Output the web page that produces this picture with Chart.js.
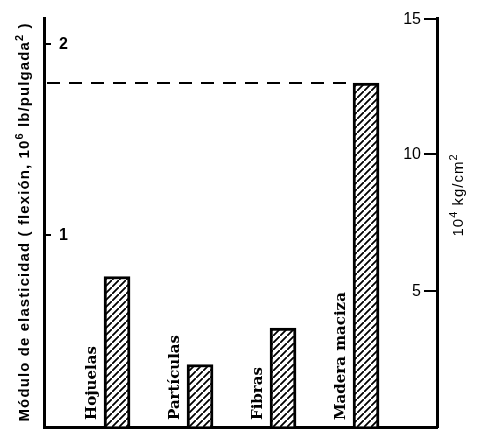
<!DOCTYPE html>
<html>
<head>
<meta charset="utf-8">
<script src="https://cdn.jsdelivr.net/npm/chart.js@4"></script>
<style>
  body { margin: 0; background: #fff; }
</style>
</head>
<body>
<canvas id="chart" width="479" height="438"></canvas>
<script>
const categories = ['Hojuelas', 'Partículas', 'Fibras', 'Madera maciza']
// módulo de elasticidad en flexión, 10^6 lb/pulgada^2
const modulus = [0.785, 0.326, 0.516, 1.794]
const leftTicks = [1, 2]
const rightTicks = [5, 10, 15]
const rightMax = 15
// 1 x 10^6 lb/pulg^2 = 7.0307 x 10^4 kg/cm^2
const psiToKg = 7.0307

// [text, superscript?]
const leftTitle = [['Módulo de elasticidad ( flexión, 10', false], ['6', true], [' lb/pulgada', false], ['2', true], [' )', false]]
const rightTitle = [['10', false], ['4', true], [' kg/cm', false], ['2', true]]

// hatch "////" pattern for the bars
const makeHatch = () => {
  const n = 7
  const c = document.createElement('canvas')
  c.width = n
  c.height = n
  const g = c.getContext('2d')
  g.fillStyle = '#fff'
  g.fillRect(0, 0, n, n)
  g.strokeStyle = '#000'
  g.lineWidth = 1.8
  g.beginPath()
  g.moveTo(-1, n + 1); g.lineTo(n + 1, -1)
  g.moveTo(-n - 1, 1); g.lineTo(1, -n - 1)
  g.moveTo(n - 1, 2 * n + 1); g.lineTo(2 * n + 1, n - 1)
  g.stroke()
  return g.createPattern(c, 'repeat')
}

// draws text with raised superscripts, centred on (0,0) along the baseline
const drawRich = (ctx, parts, size, weight, spacing) => {
  const font = (s) => `${weight} ${s}px "Liberation Sans"`
  const supSize = Math.round(size * 0.72)
  ctx.letterSpacing = spacing + 'px'
  const widths = parts.map(([t, sup]) => {
    ctx.font = font(sup ? supSize : size)
    return ctx.measureText(t).width
  })
  let cx = -widths.reduce((a, b) => a + b, 0) / 2
  ctx.textAlign = 'left'
  parts.forEach(([t, sup], i) => {
    ctx.font = font(sup ? supSize : size)
    ctx.fillText(t, cx, sup ? -size * 0.42 : 0)
    cx += widths[i]
  })
  ctx.letterSpacing = '0px'
}

const extras = {
  id: 'extras',
  afterDraw(chart) {
    const { ctx, chartArea, scales } = chart
    const { x, y, y2 } = scales
    ctx.save()
    ctx.strokeStyle = '#000'
    ctx.fillStyle = '#000'

    // tick marks and labels, inside the axes
    ctx.lineWidth = 2
    ctx.textBaseline = 'middle'
    ctx.font = 'bold 16px "Liberation Sans"'
    ctx.textAlign = 'left'
    leftTicks.forEach((v) => {
      const py = Math.round(y.getPixelForValue(v))
      ctx.beginPath()
      ctx.moveTo(chartArea.left, py)
      ctx.lineTo(chartArea.left + 7, py)
      ctx.stroke()
      ctx.fillText(String(v), chartArea.left + 15, py + 1)
    })
    ctx.font = '16px "Liberation Sans"'
    ctx.textAlign = 'right'
    rightTicks.forEach((v) => {
      const py = Math.round(y2.getPixelForValue(v)) + (v === rightMax ? 1 : 0)
      ctx.beginPath()
      ctx.moveTo(chartArea.right - 13, py)
      ctx.lineTo(chartArea.right, py)
      ctx.stroke()
      ctx.fillText(String(v), chartArea.right - 16, py + 1)
    })

    // dashed line from the top of the last bar to the left axis
    const last = modulus.length - 1
    const topY = Math.round(y.getPixelForValue(modulus[last]))
    const barLeft = x.getPixelForValue(last + 1) - 13
    ctx.lineWidth = 2
    ctx.setLineDash([13, 9])
    ctx.beginPath()
    ctx.moveTo(chartArea.left + 3, topY)
    ctx.lineTo(barLeft, topY)
    ctx.stroke()
    ctx.setLineDash([])

    // category names, vertical, left of each bar
    ctx.font = 'bold 15px "DejaVu Serif"'
    ctx.textAlign = 'left'
    ctx.textBaseline = 'middle'
    categories.forEach((c, i) => {
      ctx.save()
      ctx.translate(x.getPixelForValue(i + 1) - 25, chartArea.bottom - 7)
      ctx.rotate(-Math.PI / 2)
      ctx.fillText(c, 0, 0)
      ctx.restore()
    })

    // axis titles
    ctx.textBaseline = 'alphabetic'
    ctx.save()
    ctx.translate(29, 222)
    ctx.rotate(-Math.PI / 2)
    drawRich(ctx, leftTitle, 15, 'bold', 1.1)
    ctx.restore()

    ctx.save()
    ctx.translate(463, 195)
    ctx.rotate(-Math.PI / 2)
    drawRich(ctx, rightTitle, 15, 'normal', 1)
    ctx.restore()

    ctx.restore()
  },
}

new Chart('chart', {
  type: 'bar',
  data: {
    datasets: [
      {
        data: categories.map((c, i) => ({ x: i + 1, y: modulus[i] })),
        backgroundColor: makeHatch(),
        borderColor: '#000',
        borderWidth: 3,
        borderSkipped: 'bottom',
        barThickness: 26,
        yAxisID: 'y',
      },
    ],
  },
  options: {
    responsive: false,
    animation: false,
    events: [],
    layout: { padding: { top: 18, bottom: 0, left: 0, right: 0 } },
    plugins: {
      legend: { display: false },
      tooltip: { enabled: false },
    },
    scales: {
      x: {
        type: 'linear',
        offset: false,
        min: 0.12,
        max: 4.855,
        ticks: { display: false },
        grid: { drawOnChartArea: false, drawTicks: false, offset: false },
        border: { display: true, width: 3, color: '#000' },
        afterFit: (s) => { s.height = 11 },
      },
      y: {
        position: 'left',
        min: 0,
        max: rightMax / psiToKg,
        ticks: { display: false },
        grid: { drawOnChartArea: false, drawTicks: false },
        border: { display: true, width: 3, color: '#000' },
        afterFit: (s) => { s.width = 44 },
      },
      y2: {
        position: 'right',
        min: 0,
        max: rightMax,
        ticks: { display: false },
        grid: { drawOnChartArea: false, drawTicks: false },
        border: { display: true, width: 3, color: '#000' },
        afterFit: (s) => { s.width = 42 },
      },
    },
  },
  plugins: [extras],
})
</script>
</body>
</html>
